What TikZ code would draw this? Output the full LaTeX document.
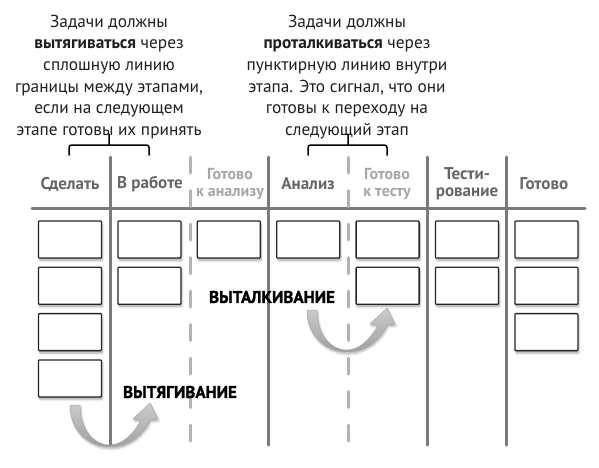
\documentclass[tikz,border=0pt]{standalone}
\usepackage{fontspec}
\setmainfont{PT Sans}
\newfontfamily\heavyfont{PT Sans}[BoldFeatures={FakeBold=1.3}]
\usetikzlibrary{shadows.blur}
\definecolor{lane}{HTML}{7A7A7A}
\definecolor{lanelight}{HTML}{B2B2B2}
\definecolor{headtext}{HTML}{666666}
\definecolor{headlight}{HTML}{A6A6A6}
\tikzset{
  note/.style={align=center, text=black!88, font=\fontsize{17.3}{21.7}\selectfont},
  head/.style={align=center, text=headtext, font=\bfseries\fontsize{17}{17}\selectfont},
  headpale/.style={head, text=headlight, font=\bfseries\fontsize{16}{17}\selectfont},
  shout/.style={text=black, font=\heavyfont\bfseries\fontsize{17}{20}\selectfont},
  card/.style={draw=black!85, line width=1.3pt, fill=white, rounded corners=0.8pt,
    minimum width=63pt, minimum height=37pt, inner sep=0pt,
    blur shadow={shadow xshift=1pt, shadow yshift=-2.5pt, shadow blur steps=6, shadow opacity=35}},
  lanesolid/.style={draw=lane, line width=3pt},
  lanedash/.style={draw=lanelight, line width=3pt, dash pattern=on 16pt off 17.5pt},
  brace/.style={line width=1.5pt, rounded corners=2.5pt},
  swing/.pic={
    \draw[draw=gray!70, line width=0.5pt, top color=gray!40, bottom color=gray!75,
      blur shadow={shadow xshift=1pt, shadow yshift=-2pt, shadow opacity=30}]
      (-40,-42) .. controls (-40,-15) and (-20,0) .. (0,0)
      .. controls (18,0) and (33,-12) .. (40,-27) -- (48,-28) -- (40,-44) -- (23,-28) -- (31,-27)
      .. controls (24,-13) and (12,-2) .. (0,-2)
      .. controls (-16,-2) and (-30,-17) .. (-30,-42) -- cycle;
  }
}
\begin{document}
\begin{tikzpicture}[x=1pt, y=-1pt, line join=round, line cap=round]
  \useasboundingbox (0,0) rectangle (599,467);
  % пояснения
  \node[note] (pullnote) at (109,77) {Задачи должны\\\textbf{вытягиваться} через\\сплошную линию\\границы между этапами,\\если на следующем\\этапе готовы их принять};
  \node[note] (pushnote) at (347,77) {Задачи должны\\\textbf{проталкиваться} через\\пунктирную линию внутри\\этапа. Это сигнал, что они\\готовы к переходу на\\следующий этап};
  \draw[brace] (69,155) -- (69,145) -- (149,145) -- (149,155) (109,145) -- (109,134);
  \draw[brace] (308,155) -- (308,145) -- (387,145) -- (387,155) (348,145) -- (348,134);
  % доска
  \draw[lanesolid] (32,208) -- (585,208);
  \foreach \x in {110,268,427,506} \draw[lanesolid] (\x,157) -- (\x,445);
  \foreach \x in {190,348} \draw[lanedash] (\x,157) -- (\x,445);
  \node[head] (todo) at (70,184) {Сделать};
  \node[head] (work) at (150,184) {В работе};
  \node[headpale] (readyan) at (230,184) {Готово\\к анализу};
  \node[head] (anal) at (308,184) {Анализ};
  \node[headpale] (readyts) at (387,184) {Готово\\к тесту};
  \node[head] (test) at (467,184) {Тести-\\рование};
  \node[head] (done) at (544,184) {Готово};
  % карточки
  \foreach \col/\n in {1/4,2/2,3/1,4/1,5/2,6/2,7/3}
    \foreach \r in {1,...,\n}
      \node[card] (c\col-\r) at ({70+79.4*(\col-1)},{239.5+46.3*(\r-1)}) {};
  \pic (pull) at (110,447) {swing};
  \pic (push) at (347,352) {swing};
  \node[shout] (pulltxt) at (180,392) {ВЫТЯГИВАНИЕ};
  \node[shout] (pushtxt) at (272,297) {ВЫТАЛКИВАНИЕ};
\end{tikzpicture}
\end{document}
